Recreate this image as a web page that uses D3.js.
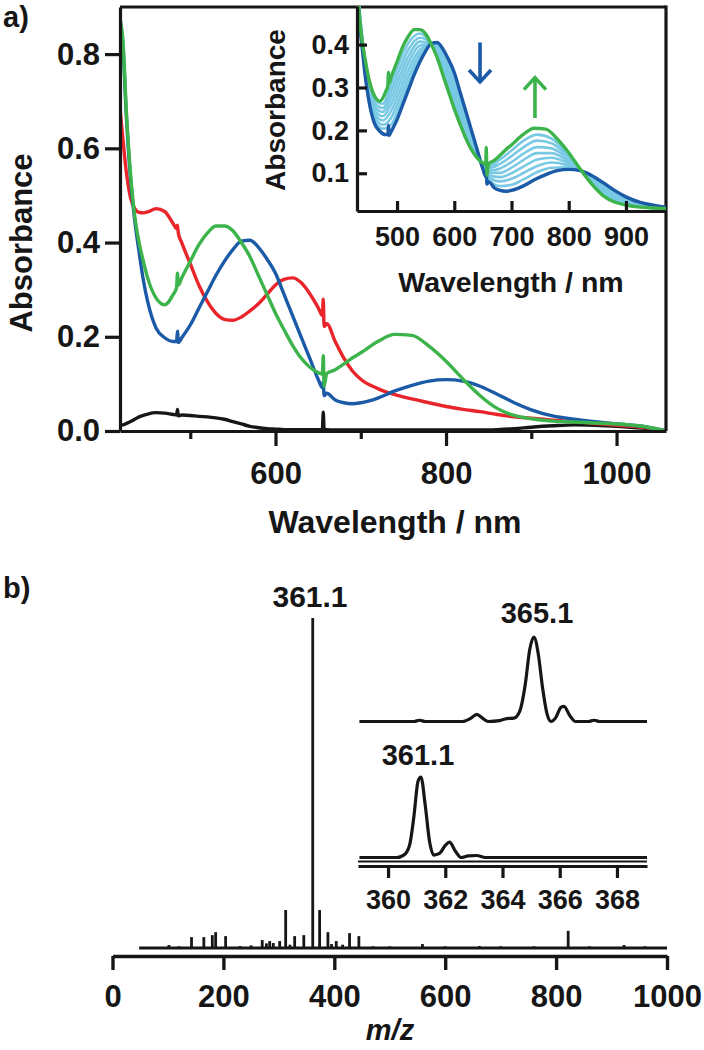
<!DOCTYPE html>
<html><head><meta charset="utf-8">
<script src="https://cdn.jsdelivr.net/npm/d3@7"></script>
<style>
html,body{margin:0;padding:0;background:#fff;}
svg{display:block;}
</style></head><body>
<svg id="c" width="704" height="1050"></svg>
<script>
// ---------- Panel a: UV-vis spectra ----------
const wl = [418,421,425,430,435,440,445,450,460,470,480,484,485,486,490,500,510,520,530,540,550,560,570,580,590,600,610,620,630,640,650,655,656,657,660,670,680,690,700,720,740,760,780,800,820,840,860,880,900,925,950,975,1000,1030,1058];
const absGreen = [.873,.83,.68,.545,.455,.40,.36,.325,.282,.268,.29,.305,.335,.31,.325,.36,.395,.42,.435,.435,.425,.40,.37,.33,.29,.25,.215,.182,.155,.136,.124,.121,.16,.095,.122,.13,.142,.155,.166,.19,.205,.203,.18,.148,.11,.075,.048,.033,.026,.021,.019,.017,.015,.01,0];
const absBlue  = [.86,.82,.67,.535,.445,.38,.32,.275,.218,.198,.19,.19,.212,.188,.198,.225,.26,.295,.33,.36,.385,.403,.405,.39,.365,.335,.29,.245,.2,.155,.11,.092,.105,.075,.08,.066,.06,.058,.06,.07,.085,.097,.106,.109,.106,.095,.078,.06,.045,.032,.025,.02,.015,.01,0];
const absRed   = [.676,.62,.55,.495,.472,.464,.463,.465,.472,.466,.44,.43,.437,.42,.40,.355,.31,.275,.25,.237,.235,.242,.255,.27,.29,.31,.322,.325,.315,.292,.262,.245,.28,.222,.228,.19,.155,.128,.11,.09,.077,.068,.06,.052,.046,.041,.035,.03,.027,.023,.02,.016,.012,.008,0];
const absBlack = [.012,.013,.016,.02,.025,.03,.033,.036,.039,.038,.035,.034,.046,.032,.034,.033,.031,.03,.028,.025,.02,.015,.01,.007,.005,.004,.003,.003,.003,.003,.003,.003,.04,.003,.003,.002,.002,.002,.002,.002,.002,.002,.002,.002,.002,.002,.003,.005,.008,.011,.013,.012,.01,.006,0];

// inset: intermediate titration spectra
const wlI = [430,445,460,475,490,505,520,540,560,580,600,625,650,660,680,700,720,745,770,795,820,850,890,930,970];
const mid1 = [.54,.325,.226,.204,.214,.259,.311,.369,.403,.383,.324,.215,.112,.085,.07,.073,.085,.103,.113,.114,.107,.084,.049,.029,.02];
const mid2 = [.54,.33,.234,.213,.23,.276,.326,.379,.402,.375,.314,.208,.114,.091,.081,.087,.10,.117,.125,.12,.107,.08,.046,.028,.019];
const mid3 = [.54,.335,.242,.223,.246,.293,.342,.388,.402,.368,.303,.202,.115,.096,.091,.10,.115,.132,.136,.126,.108,.077,.043,.026,.019];
const mid4 = [.54,.34,.25,.233,.262,.31,.358,.398,.402,.36,.293,.195,.117,.101,.101,.113,.13,.147,.147,.132,.108,.074,.041,.025,.019];
const mid5 = [.54,.345,.258,.243,.277,.327,.373,.407,.401,.353,.282,.188,.119,.106,.111,.126,.145,.161,.158,.138,.109,.07,.038,.024,.018];
const mid6 = [.54,.35,.266,.252,.293,.344,.389,.416,.401,.345,.271,.181,.121,.112,.122,.14,.16,.176,.17,.144,.109,.067,.035,.023,.018];
const mid7 = [.54,.355,.274,.262,.309,.361,.404,.426,.40,.338,.261,.175,.122,.117,.132,.153,.175,.19,.181,.15,.11,.063,.032,.021,.017];

const yTicksA = [0, 0.2, 0.4, 0.6, 0.8];
const xMajorA = [600, 800, 1000];
const xMinorA = [500, 700, 900];
const yTicksI = [0.1, 0.2, 0.3, 0.4];
const xTicksI = [500, 600, 700, 800, 900];
// arrows in inset: [wavelength, from, to]
const arrowDown = [645, 0.405, 0.313];
const arrowUp = [741, 0.229, 0.323];

// ---------- Panel b: mass spectrum ----------
const msMz  = [101.7,120,142.5,164.7,180,186,204,230,250,270,277.6,283.5,290,301.5,312.3,320,328.5,345,361.1,373.5,388.5,395,403.5,415,427.5,444.3,470,500,559,600,661.6,700,760,821.8,860,922.6,960];
const msInt = [0.9,0.5,3.3,3.3,3.9,4.8,3.6,0.6,0.8,2.4,1.4,2.1,1.5,2.1,11.5,1.0,3.6,3.9,100,11.5,4.8,1.2,2.1,1.0,4.5,3.6,0.5,0.5,1.2,0.5,0.6,0.5,0.5,5.2,0.5,0.9,0.5];
const msRange = [48, 1000];
const xTicksB = [0, 200, 400, 600, 800, 1000];

// inset b: isotope patterns
const mzUp  = [359,360.5,360.9,361.1,361.3,362.6,362.9,363.1,363.3,363.5,363.9,364.15,364.4,364.6,364.8,364.95,365.1,365.25,365.4,365.55,365.7,365.85,366.05,366.15,366.35,366.55,367.0,367.2,367.4,369.05];
const intUp = [0,0,0,0.015,0,0,0.04,0.085,0.04,0,0.01,0.035,0.04,0.12,0.45,0.85,1.0,0.8,0.4,0.1,0,0.04,0.17,0.18,0.07,0,0,0.015,0,0];
const mzLo  = [359,360.3,360.55,360.75,360.9,361.05,361.15,361.3,361.45,361.6,361.8,362.0,362.15,362.35,362.55,362.8,363.1,363.4,369.05];
const intLo = [0,0,0.03,0.15,0.5,0.95,1.0,0.65,0.2,0.03,0.05,0.15,0.19,0.08,0,0.02,0.025,0,0];
const xTicksC = [360, 362, 364, 366, 368];

// ---------- drawing ----------
const svg = d3.select("#c");
const F = "'Liberation Sans', Arial, Helvetica, sans-serif";
const INK = "#161616";
const C = {green:"#3cb44b", blue:"#1b5aa6", red:"#e9242b", black:"#161616", cyan:"#79c9e4"};

function txt(x, y, s, size, o = {}) {
  const t = svg.append("text")
    .attr("transform", `translate(${x},${y})` + (o.rot ? ` rotate(${o.rot})` : ""))
    .attr("text-anchor", o.anchor || "middle")
    .style("font-family", F).style("font-weight", "bold")
    .style("font-size", size + "px").attr("fill", INK).text(s);
  if (o.italic) t.style("font-style", "italic");
  return t;
}
function styleAxis(g, size, sw) {
  g.select(".domain").attr("stroke", INK).attr("stroke-width", sw);
  g.selectAll(".tick line").attr("stroke", INK).attr("stroke-width", sw);
  g.selectAll(".tick text").attr("fill", INK).style("font-family", F)
    .style("font-weight", "bold").style("font-size", size + "px");
}

// Panel a scales
const xA = d3.scaleLinear([417.6, 1058], [120, 666]);
const yA = d3.scaleLinear([0, 0.9], [431, 7]);

svg.append("clipPath").attr("id", "clipA").append("rect")
  .attr("x", 120).attr("y", 7).attr("width", 546).attr("height", 424);

const lineA = d3.line().x(d => xA(d[0])).y(d => yA(d[1])).curve(d3.curveMonotoneX);
const gA = svg.append("g").attr("clip-path", "url(#clipA)");
[[absBlack, C.black], [absRed, C.red], [absBlue, C.blue], [absGreen, C.green]].forEach(([s, col]) => {
  gA.append("path").datum(d3.zip(wl, s)).attr("d", lineA)
    .attr("fill", "none").attr("stroke", col).attr("stroke-width", 3.4)
    .attr("stroke-linejoin", "round").attr("stroke-linecap", "round");
});

// frame top/right
svg.append("line").attr("x1", xA.range()[0]).attr("x2", xA.range()[1]).attr("y1", yA.range()[1]).attr("y2", yA.range()[1])
  .attr("stroke", INK).attr("stroke-width", 3.2);
svg.append("line").attr("x1", xA.range()[1]).attr("x2", xA.range()[1]).attr("y1", yA.range()[1] - 1.6).attr("y2", yA.range()[0])
  .attr("stroke", INK).attr("stroke-width", 3.2);

const gyA = svg.append("g").attr("transform", "translate(120,0)")
  .call(d3.axisLeft(yA).tickValues(yTicksA).tickFormat(d3.format(".1f")).tickSize(15).tickSizeOuter(0).tickPadding(5));
styleAxis(gyA, 31, 3.2);
const gxA = svg.append("g").attr("transform", "translate(0,431)")
  .call(d3.axisBottom(xA).tickValues(xMajorA).tickFormat(d3.format("d")).tickSize(15).tickSizeOuter(0).tickPadding(16));
styleAxis(gxA, 31, 3.2);
const gxA2 = svg.append("g").attr("transform", "translate(0,431)")
  .call(d3.axisBottom(xA).tickValues(xMinorA).tickFormat("").tickSize(8).tickSizeOuter(0));
styleAxis(gxA2, 31, 3.2);
gxA2.select(".domain").remove();

txt(32, 243, "Absorbance", 31, {rot: -90});
txt(395, 533, "Wavelength / nm", 32);
txt(3, 27, "a)", 29, {anchor: "start"});

// Inset a
const xI = d3.scaleLinear([430, 970], [357, 666]);
const yI = d3.scaleLinear([0.012, 0.49], [211, 6]);
svg.append("clipPath").attr("id", "clipI").append("rect")
  .attr("x", 357).attr("y", 6).attr("width", 309).attr("height", 205);
const lineI = d3.line().x(d => xI(d[0])).y(d => yI(d[1])).curve(d3.curveMonotoneX);
const gI = svg.append("g").attr("clip-path", "url(#clipI)");
[mid1, mid2, mid3, mid4, mid5, mid6, mid7].forEach(s => {
  gI.append("path").datum(d3.zip(wlI, s)).attr("d", lineI)
    .attr("fill", "none").attr("stroke", C.cyan).attr("stroke-width", 2.6);
});
[[absBlue, C.blue], [absGreen, C.green]].forEach(([s, col]) => {
  gI.append("path").datum(d3.zip(wl, s)).attr("d", lineI)
    .attr("fill", "none").attr("stroke", col).attr("stroke-width", 3.4)
    .attr("stroke-linejoin", "round");
});
const gyI = svg.append("g").attr("transform", "translate(357,0)")
  .call(d3.axisLeft(yI).tickValues(yTicksI).tickFormat(d3.format(".1f")).tickSize(-10).tickSizeOuter(0).tickPadding(8));
styleAxis(gyI, 27, 3.2);
const gxI = svg.append("g").attr("transform", "translate(0,211)")
  .call(d3.axisBottom(xI).tickValues(xTicksI).tickFormat(d3.format("d")).tickSize(-10).tickSizeOuter(0).tickPadding(16));
styleAxis(gxI, 27, 3.2);
txt(285, 110, "Absorbance", 28, {rot: -90});
txt(511, 292, "Wavelength / nm", 28.5);

function arrow(a, col, dir) {
  const x = xI(a[0]), y1 = yI(a[1]), y2 = yI(a[2]);
  const hy = dir > 0 ? y2 - 12 : y2 + 12;
  svg.append("path")
    .attr("d", `M${x},${y1}L${x},${y2}M${x - 11},${hy}L${x},${y2}L${x + 11},${hy}`)
    .attr("fill", "none").attr("stroke", col).attr("stroke-width", 3.6)
    .attr("stroke-linejoin", "miter");
}
arrow(arrowDown, C.blue, 1);
arrow(arrowUp, C.green, -1);

// Panel b
const xB = d3.scaleLinear([0, 1000], [112.5, 667]);
const yB = d3.scaleLinear([0, 100], [948, 618]);
svg.append("line").attr("x1", xB(msRange[0])).attr("x2", xB(msRange[1]))
  .attr("y1", yB(0)).attr("y2", yB(0)).attr("stroke", INK).attr("stroke-width", 3.2);
svg.append("g").selectAll("line").data(d3.zip(msMz, msInt)).join("line")
  .attr("x1", d => xB(d[0])).attr("x2", d => xB(d[0]))
  .attr("y1", yB(0)).attr("y2", d => yB(d[1]))
  .attr("stroke", INK).attr("stroke-width", 2.8);
const gxB = svg.append("g").attr("transform", "translate(0,956)")
  .call(d3.axisBottom(xB).tickValues(xTicksB).tickFormat(d3.format("d")).tickSize(14).tickSizeOuter(0).tickPadding(15));
styleAxis(gxB, 31, 3.4);
txt(310, 607, "361.1", 30);
txt(390, 1040, "m/z", 29, {italic: true});
txt(3, 598, "b)", 29, {anchor: "start"});

// Inset b
const xC = d3.scaleLinear([358.95, 369.05], [358, 647]);
const yUp = d3.scaleLinear([0, 1], [721.5, 637]);
const yLo = d3.scaleLinear([0, 1], [857.5, 777]);
svg.append("path").datum(d3.zip(mzUp, intUp))
  .attr("d", d3.line().x(d => xC(d[0])).y(d => yUp(d[1])).curve(d3.curveMonotoneX))
  .attr("fill", "none").attr("stroke", INK).attr("stroke-width", 3.2).attr("stroke-linejoin", "round");
svg.append("path").datum(d3.zip(mzLo, intLo))
  .attr("d", d3.line().x(d => xC(d[0])).y(d => yLo(d[1])).curve(d3.curveMonotoneX))
  .attr("fill", "none").attr("stroke", INK).attr("stroke-width", 3.2).attr("stroke-linejoin", "round");
svg.append("line").attr("x1", xC.range()[0]).attr("x2", xC.range()[1]).attr("y1", 861.5).attr("y2", 861.5)
  .attr("stroke", INK).attr("stroke-width", 1.8);
const gxC = svg.append("g").attr("transform", "translate(0,866)")
  .call(d3.axisBottom(xC).tickValues(xTicksC).tickFormat(d3.format("d")).tickSize(12).tickSizeOuter(0).tickPadding(12));
styleAxis(gxC, 27, 3.2);
txt(537, 623, "365.1", 29);
txt(418, 765, "361.1", 29);
</script></body></html>
